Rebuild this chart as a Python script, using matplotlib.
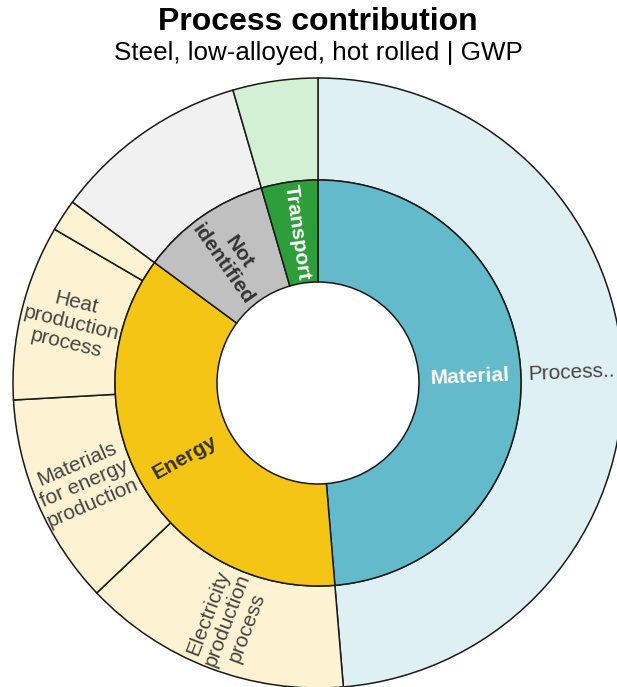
import numpy as np
import matplotlib.pyplot as plt

plt.rcParams['font.family'] = ['Liberation Sans', 'DejaVu Sans']

# inner ring (process groups), share of GWP in %
groups = ['Material', 'Energy', 'Not\nidentified', 'Transport']
group_vals = [48.7, 36.45, 10.4, 4.5]
group_cols = ['#62bacb', '#f5c515', '#c0c0c0', '#2e9e3a']
group_txt = ['white', '#333333', '#333333', 'white']

# outer ring (sub-processes)
subs = ['Process..', 'Electricity\nproduction\nprocess', 'Materials\nfor energy\nproduction',
        'Heat\nproduction\nprocess', '', '', '']
sub_vals = [48.7, 14.25, 11.2, 9.3, 1.7, 10.4, 4.5]
sub_cols = ['#dff0f5', '#fdf3d3', '#fdf3d3', '#fdf3d3', '#fdf3d3', '#f1f1f1', '#d3f0d5']

# geometry in pixels of the reference
W, H = 617, 687
cx, cy, R = 318, 383, 305
r_mid = 203 / R
r_in = 101 / R

fig = plt.figure(figsize=(W / 100, H / 100), dpi=100)
ax = fig.add_axes([0, 0, 1, 1])

wp = dict(edgecolor='#1a1a1a', linewidth=1.1)
ax.pie(sub_vals, radius=1.0, colors=sub_cols, startangle=90, counterclock=False,
       wedgeprops=dict(width=1.0 - r_mid, **wp))
ax.pie(group_vals, radius=r_mid, colors=group_cols, startangle=90, counterclock=False,
       wedgeprops=dict(width=r_mid - r_in, **wp))

ax.set_xlim(-cx / R, (W - cx) / R)
ax.set_ylim(-(H - cy) / R, cy / R)
ax.set_aspect('equal')
ax.axis('off')


def label(vals, names, r, colors, weight, size):
    cum = np.cumsum([0] + list(vals))
    for i, name in enumerate(names):
        if not name:
            continue
        mid = (cum[i] + cum[i + 1]) / 2 / sum(vals) * 360
        th = 90 - mid
        x, y = r * np.cos(np.radians(th)), r * np.sin(np.radians(th))
        rot = th
        if rot < -90:
            rot += 180
        if rot > 90:
            rot -= 180
        ax.text(x, y, name, ha='center', va='center', rotation=rot,
                rotation_mode='anchor', color=colors[i], fontweight=weight,
                fontsize=size, linespacing=1.12)


label(group_vals, groups, (r_mid + r_in) / 2, group_txt, 'bold', 15)
label(sub_vals, subs, (1.0 + r_mid) / 2, ['#444444'] * len(subs), 'normal', 15)

fig.text(cx / W, 0.968, 'Process contribution', ha='center', va='center',
         fontsize=23, fontweight='bold')
fig.text(cx / W, 0.923, 'Steel, low-alloyed, hot rolled | GWP', ha='center', va='center',
         fontsize=18.7)

fig.savefig('out.png', dpi=100)
